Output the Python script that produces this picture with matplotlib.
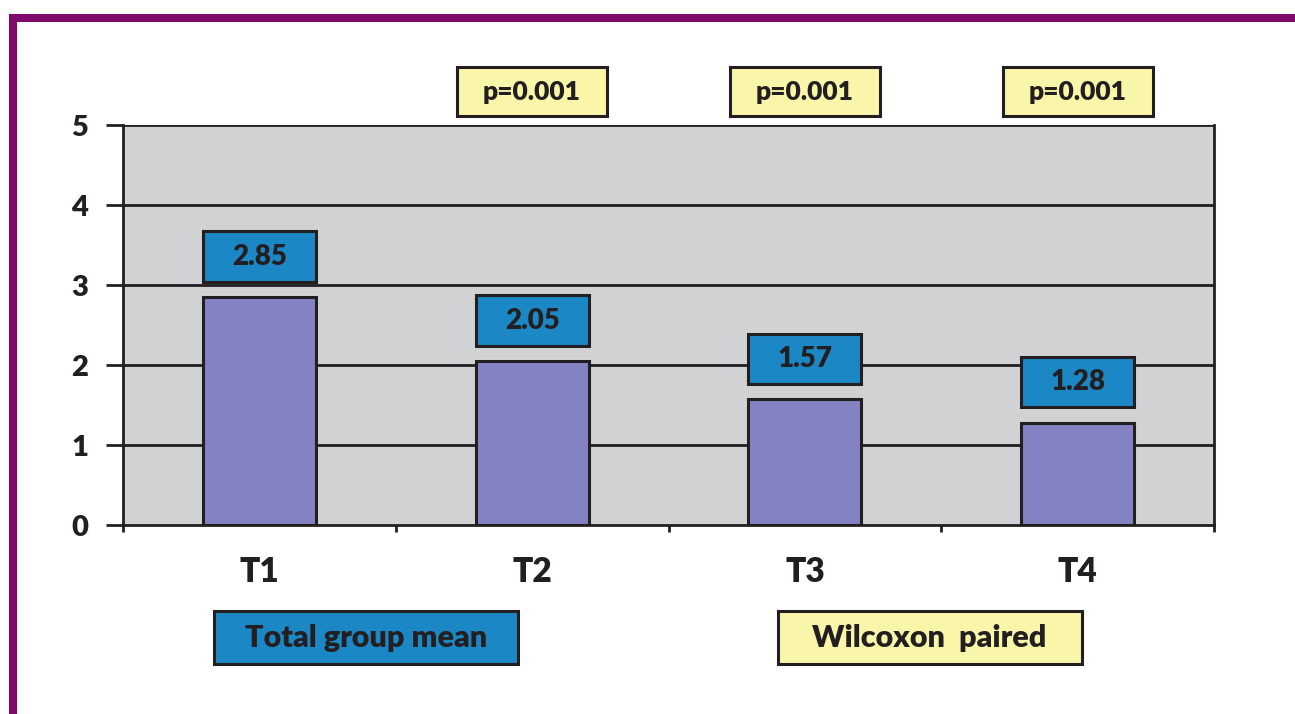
import matplotlib.pyplot as plt
from matplotlib.patches import Rectangle
from matplotlib.lines import Line2D
import numpy as np

plt.rcParams['font.family'] = ['Lato', 'DejaVu Sans']
plt.rcParams['font.weight'] = 'heavy'

# ── Data ──────────────────────────────────────────────────────────────────────
categories = ["T1", "T2", "T3", "T4"]
means = [2.85, 2.05, 1.57, 1.28]
p_labels = ["", "p=0.001", "p=0.001", "p=0.001"]
legend_texts = ["Total group mean", "Wilcoxon  paired"]

INK = "#231f20"
GREY_BG = "#d1d2d4"
BAR = "#8383c3"
BLUE = "#1b87c5"
YELLOW = "#f9f6aa"
PURPLE = "#800a6b"
WEIGHT = "heavy"

fig = plt.figure(figsize=(12.95, 7.14), dpi=100)
ax = fig.add_axes([123 / 1295, 1 - 525 / 714, (1214 - 123) / 1295, 400 / 714])

x = np.arange(len(categories))
w = 0.415

ax.set_facecolor(GREY_BG)
ax.set_xlim(-0.5, 3.5)
ax.set_ylim(0, 5)

# horizontal grid, drawn under the bars
for yv in range(1, 6):
    ax.axhline(yv, color=INK, lw=2.0, zorder=1)

ax.bar(x, means, w, color=BAR, edgecolor=INK, linewidth=2.2, zorder=2)

# value boxes sitting just above each bar
box_gap, box_h = 0.19, 0.63
for xi, v in zip(x, means):
    ax.add_patch(Rectangle((xi - w / 2, v + box_gap), w, box_h,
                           facecolor=BLUE, edgecolor=INK, lw=2.2, zorder=3))
    ax.text(xi, v + box_gap + box_h / 2, f"{v:.2f}", ha="center", va="center",
            fontsize=20, color=INK, fontweight=WEIGHT, zorder=4)

# significance boxes above the plot area
pw = 0.55
for xi, p in zip(x, p_labels):
    if not p:
        continue
    ax.add_patch(Rectangle((xi - pw / 2, 5.11), pw, 0.615, facecolor=YELLOW,
                           edgecolor=INK, lw=2.2, clip_on=False, zorder=3))
    ax.text(xi, 5.11 + 0.3075, p, ha="center", va="center", fontsize=19,
            color=INK, fontweight=WEIGHT, clip_on=False)

# legend boxes below the axis
leg_centers = [(366 - 123) / 272.75 - 0.5, (929.5 - 123) / 272.75 - 0.5]
leg_colors = [BLUE, YELLOW]
lw_box = 304 / 272.75
for cx, col, txt in zip(leg_centers, leg_colors, legend_texts):
    ax.add_patch(Rectangle((cx - lw_box / 2, -1.7375), lw_box, 0.6625,
                           facecolor=col, edgecolor=INK, lw=2.2, clip_on=False))
    ax.text(cx, -1.7375 + 0.33, txt, ha="center", va="center", fontsize=22,
            color=INK, fontweight=WEIGHT, clip_on=False)

# axes styling
for side in ["left", "right", "bottom", "top"]:
    ax.spines[side].set_color(INK)
    ax.spines[side].set_linewidth(2.0)
ax.spines["top"].set_visible(False)

ax.set_yticks(range(0, 6))
ax.set_yticklabels([str(i) for i in range(0, 6)], fontsize=21, color=INK,
                   fontweight=WEIGHT)
ax.tick_params(axis="y", length=12, width=2.0, color=INK, pad=13)

ax.set_xticks(x)
ax.set_xticklabels(categories, fontsize=24, color=INK, fontweight=WEIGHT)
ax.set_xticks(np.arange(-0.5, 4.0, 1.0), minor=True)
ax.tick_params(axis="x", which="major", length=0, pad=22)
ax.tick_params(axis="x", which="minor", length=5, width=2.0, color=INK)

# purple page frame
fig.add_artist(Line2D([9 / 1295, 1.0], [1 - 18 / 714, 1 - 18 / 714],
                      transform=fig.transFigure, color=PURPLE, lw=5.8,
                      solid_capstyle="butt"))
fig.add_artist(Line2D([13 / 1295, 13 / 1295], [1 - 14 / 714, 0.0],
                      transform=fig.transFigure, color=PURPLE, lw=5.8,
                      solid_capstyle="butt"))

fig.savefig("out.png", dpi=100, facecolor="white")
